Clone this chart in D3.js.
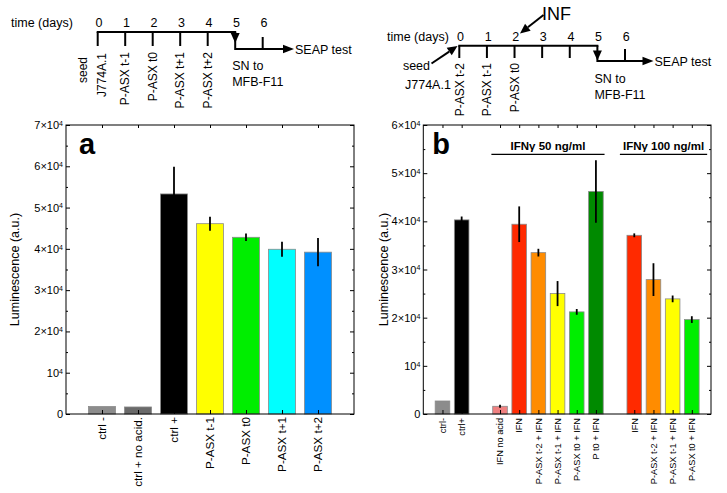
<!DOCTYPE html>
<html><head><meta charset="utf-8">
<script src="https://cdn.jsdelivr.net/npm/d3@7"></script>
<style>body{margin:0;background:#fff}svg{display:block}text{font-family:"Liberation Sans",Arial,Helvetica,sans-serif;fill:#000}</style>
</head><body><svg id="c" width="727" height="493"></svg>
<script>
// ---------- data ----------
const catsA = ["ctrl -","ctrl + no acid.","ctrl +","P-ASX t-1","P-ASX t0","P-ASX t+1","P-ASX t+2"];
const valsA = [1800,1700,53300,46100,42800,39900,39200];
const errsA = [0,0,6600,1700,900,1800,3400];
const colsA = ["#8c8c8c","#6a6a6a","#000000","#ffff00","#00ee00","#00ffff","#0090ff"];

const catsB = ["ctrl-","ctrl+","IFN no acid","IFN","P-ASX t-2 + IFN","P-ASX t-1 + IFN","P-ASX t0 + IFN","P t0 + IFN","IFN","P-ASX t-2 + IFN","P-ASX t-1 + IFN","P-ASX t0 + IFN"];
const groupsB = ["ctrl","ctrl","50","50","50","50","50","50","100","100","100","100"];
const valsB = [2700,40300,1600,39400,33500,25000,21200,46200,37100,27900,23900,19600];
const errsB = [0,700,300,3700,800,2600,600,6500,400,3400,700,700];
const colsB = ["#8c8c8c","#000000","#f08080","#ff2a00","#ff8c00","#ffff00","#00ee00","#008a00","#ff2a00","#ff8c00","#ffff00","#00ee00"];

const ticksA = [0,10000,20000,30000,40000,50000,60000,70000];
const ticksB = [0,10000,20000,30000,40000,50000,60000];
const days = [0,1,2,3,4,5,6];
const tlLabelsA = ["P-ASX t-1","P-ASX t0","P-ASX t+1","P-ASX t+2"]; const tlDaysA = [1,2,3,4];
const tlLabelsB = ["P-ASX t-2","P-ASX t-1","P-ASX t0"]; const tlDaysB = [0,1,2];
const headersB = ["IFNγ 50 ng/ml","IFNγ 100 ng/ml"];

// ---------- drawing ----------
const svg = d3.select("#c");

function fmtTick(sel){
  sel.each(function(d){
    const t = d3.select(this); t.text("");
    if(d===0){t.text("0");return;}
    const m = d/10000;
    if(m!==1) t.append("tspan").text(m+"×");
    t.append("tspan").text("10");
    t.append("tspan").attr("dy","-0.45em").attr("font-size","7px").text("4");
  });
}

function panel(opt){
  const {x0,x1,y0,y1,ymax,ticks,pos,cats,vals,errs,cols,dom,bw,lblFont,lblY,letter,letterX,titleX} = opt;
  const x = d3.scaleLinear().domain(dom).range([x0,x1]);
  const y = d3.scaleLinear().domain([0,ymax]).range([y1,y0]);
  const g = svg.append("g");
  const minor = d3.range(5000,ymax,10000);
  g.selectAll("rect.bar").data(vals).join("rect")
    .attr("x",(d,i)=>x(pos[i])-bw/2).attr("width",bw)
    .attr("y",d=>y(d)).attr("height",d=>y(0)-y(d))
    .attr("fill",(d,i)=>cols[i]).attr("stroke","#8a8a8a").attr("stroke-width",0.8);
  g.selectAll("line.err").data(vals).join("line")
    .attr("x1",(d,i)=>x(pos[i])).attr("x2",(d,i)=>x(pos[i]))
    .attr("y1",(d,i)=>y(d+errs[i])).attr("y2",(d,i)=>y(d-errs[i]))
    .attr("stroke","#000").attr("stroke-width",1.8)
    .attr("display",(d,i)=>errs[i]>0?null:"none");
  g.append("rect").attr("x",x0).attr("y",y0).attr("width",x1-x0).attr("height",y1-y0)
    .attr("fill","none").attr("stroke","#000").attr("stroke-width",1);
  const la = g.append("g").attr("transform",`translate(${x0},0)`)
    .call(d3.axisLeft(y).tickValues(ticks).tickSize(-4).tickSizeOuter(0).tickPadding(3));
  la.select(".domain").remove();
  la.selectAll("text").attr("font-size","11px").attr("fill","#222").call(fmtTick);
  const lm = g.append("g").attr("transform",`translate(${x0},0)`)
    .call(d3.axisLeft(y).tickValues(minor).tickSize(-2).tickFormat(""));
  lm.select(".domain").remove();
  const ra = g.append("g").attr("transform",`translate(${x1},0)`)
    .call(d3.axisRight(y).tickValues(ticks).tickSize(-4).tickFormat(""));
  ra.select(".domain").remove();
  const rm = g.append("g").attr("transform",`translate(${x1},0)`)
    .call(d3.axisRight(y).tickValues(minor).tickSize(-2).tickFormat(""));
  rm.select(".domain").remove();
  const bx = g.append("g").attr("transform",`translate(0,${y1})`)
    .call(d3.axisBottom(x).tickValues(pos).tickSize(-4).tickFormat(""));
  bx.select(".domain").remove();
  const tx = g.append("g").attr("transform",`translate(0,${y0})`)
    .call(d3.axisTop(x).tickValues(pos).tickSize(-3).tickFormat(""));
  tx.select(".domain").remove();
  g.selectAll(".tick line").attr("stroke","#000");
  g.selectAll("text.xl").data(cats).join("text")
    .attr("transform",(d,i)=>`translate(${x(pos[i])},${lblY}) rotate(-90)`)
    .attr("text-anchor","end").attr("dy","0.35em").attr("font-size",lblFont).attr("fill","#111").text(d=>d);
  g.append("text").attr("x",x0+letterX).attr("y",y0+29).attr("font-size","29px").attr("font-weight","bold").text(letter);
  g.append("text").attr("transform",`translate(${titleX},${(y0+y1)/2}) rotate(-90)`)
    .attr("text-anchor","middle").attr("font-size","12.5px").text("Luminescence (a.u.)");
  return {x,y,g};
}

panel({x0:66,x1:354,y0:125,y1:414,ymax:70000,ticks:ticksA,pos:catsA.map((d,i)=>i+1),
  cats:catsA,vals:valsA,errs:errsA,cols:colsA,dom:[0,8],bw:27,lblFont:"11.7px",lblY:417,letter:"a",letterX:13,titleX:19});

const posB = []; {let p=0; groupsB.forEach((gname,i)=>{ if(i>0 && gname!==groupsB[i-1]) p+=1; posB.push(p); p+=1; });}
const pb = panel({x0:423.3,x1:711,y0:125,y1:414,ymax:60000,ticks:ticksB,pos:posB,
  cats:catsB,vals:valsB,errs:errsB,cols:colsB,dom:[-1,d3.max(posB)+1],bw:14.6,lblFont:"9.2px",lblY:418,letter:"b",letterX:9,titleX:388});

const grpNames = ["50","100"];
grpNames.forEach((gn,k)=>{
  const ps = posB.filter((p,i)=>groupsB[i]===gn);
  const a = d3.min(ps), b = d3.max(ps);
  const xa = k===0 ? pb.x(a-0.45) : pb.x(a-0.75);
  const xb = k===0 ? pb.x(b+0.45) : pb.x(b+0.8);
  pb.g.append("line").attr("x1",xa).attr("x2",xb).attr("y1",154.3).attr("y2",154.3).attr("stroke","#000").attr("stroke-width",1.2);
  pb.g.append("text").attr("x",(xa+xb)/2).attr("y",150).attr("text-anchor","middle")
    .attr("font-size","11.5px").attr("font-weight","bold").text(headersB[k]);
});

// ---------- timelines ----------
function tri(g,tipX,tipY,dir,len,half){
  let pts;
  if(dir==="down") pts=[[tipX,tipY],[tipX-half,tipY-len],[tipX+half,tipY-len]];
  else pts=[[tipX,tipY],[tipX-len,tipY-half],[tipX-len,tipY+half]];
  g.append("polygon").attr("points",pts.map(p=>p.join(",")).join(" ")).attr("fill","#000");
}
function arrowLine(g,x1,y1,x2,y2,len,half){
  const ang=Math.atan2(y2-y1,x2-x1);
  const bx=x2-len*Math.cos(ang), by=y2-len*Math.sin(ang);
  g.append("line").attr("x1",x1).attr("y1",y1).attr("x2",bx).attr("y2",by).attr("stroke","#000").attr("stroke-width",2);
  const px=-Math.sin(ang)*half, py=Math.cos(ang)*half;
  g.append("polygon").attr("points",`${x2},${y2} ${bx+px},${by+py} ${bx-px},${by-py}`).attr("fill","#000");
}

function timeline(o){
  const g = svg.append("g");
  const t = d3.scaleLinear().domain([0,6]).range(o.range);
  const fs="12.5px";
  g.append("text").attr("x",o.titleX).attr("y",o.numY).attr("font-size",fs).text("time (days)");
  g.selectAll("text.n").data(days).join("text").attr("x",d=>t(d)+1.2).attr("y",o.numY)
    .attr("text-anchor","middle").attr("font-size",fs).text(d=>d);
  const L = g.append("g").attr("stroke","#000").attr("stroke-width",2).attr("fill","none");
  L.append("line").attr("x1",t(0)-1).attr("x2",t(5)+1).attr("y1",o.lineY).attr("y2",o.lineY);
  [0,1,2,3,4].forEach(d=>L.append("line").attr("x1",t(d)).attr("x2",t(d)).attr("y1",o.lineY).attr("y2",o.tickY));
  L.append("line").attr("x1",t(5)).attr("x2",t(5)).attr("y1",o.lineY).attr("y2",o.line2Y+1);
  L.append("line").attr("x1",t(5)).attr("x2",o.arrowEnd-8).attr("y1",o.line2Y).attr("y2",o.line2Y);
  L.append("line").attr("x1",t(6)).attr("x2",t(6)).attr("y1",o.line2Y).attr("y2",o.tick6Y);
  tri(g,t(5),o.downTip,"down",10,4.5);
  tri(g,o.arrowEnd,o.line2Y,"right",11,4.2);
  g.append("text").attr("x",o.arrowEnd+1).attr("y",o.line2Y+4.5).attr("font-size",fs).text("SEAP test");
  g.append("text").attr("x",t(5)-3).attr("y",o.snY).attr("font-size",fs).text("SN to");
  g.append("text").attr("x",t(5)-3).attr("y",o.snY+15.5).attr("font-size",fs).text("MFB-F11");
  o.lDays.forEach((d,i)=>{
    g.append("text").attr("transform",`translate(${t(d)},${o.lblY}) rotate(-90)`).attr("text-anchor","end")
      .attr("dy","0.35em").attr("font-size","12px").text(o.lLabels[i]);
  });
  return {g,t};
}

const tA = timeline({range:[97.7,262.7],titleX:11,numY:27,lineY:32,tickY:46,line2Y:49,tick6Y:37,downTip:43,
  arrowEnd:294,snY:70,lDays:tlDaysA,lLabels:tlLabelsA,lblY:52});
tA.g.append("text").attr("transform","translate(82.5,57) rotate(-90)").attr("text-anchor","end").attr("dy","0.35em").attr("font-size","12px").text("seed");
tA.g.append("text").attr("transform","translate(102,53) rotate(-90)").attr("text-anchor","end").attr("dy","0.35em").attr("font-size","12px").text("J774A.1");

const tB = timeline({range:[459.3,625],titleX:387,numY:40.5,lineY:45.7,tickY:58,line2Y:61,tick6Y:49,downTip:60.5,
  arrowEnd:653.5,snY:83,lDays:tlDaysB,lLabels:tlLabelsB,lblY:63});
tB.g.append("text").attr("x",430).attr("y",70).attr("text-anchor","end").attr("font-size","12.5px").text("seed");
tB.g.append("text").attr("x",405).attr("y",89).attr("font-size","12.5px").text("J774A.1");
arrowLine(tB.g,431.5,63.5,457.5,46,10,4.5);
arrowLine(tB.g,543.5,15,520,33.5,10,4.5);
tB.g.append("text").attr("x",542).attr("y",19.5).attr("font-size","18px").text("INF");
</script></body></html>
